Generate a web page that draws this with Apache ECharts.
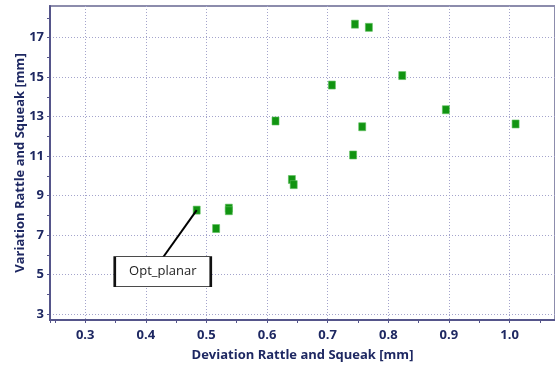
<!DOCTYPE html>
<html>
<head>
<meta charset="utf-8">
<script src="https://cdn.jsdelivr.net/npm/echarts@6/dist/echarts.min.js"></script>
<style>
html,body{margin:0;padding:0;background:#fff;}
#chart{width:555px;height:367px;}
</style>
</head>
<body>
<div id="chart"></div>
<script>
// Data
var deviation = [0.745, 0.768, 0.823, 0.707, 0.895, 0.614, 0.757, 1.010, 0.742, 0.641, 0.644, 0.484, 0.516, 0.537, 0.537];
var variation = [17.68, 17.52, 15.08, 14.60, 13.35, 12.78, 12.49, 12.63, 11.06, 9.82, 9.56, 8.27, 7.34, 8.37, 8.24];
var xAxisTitle = 'Deviation Rattle and Squeak [mm]';
var yAxisTitle = 'Variation Rattle and Squeak [mm]';
var xRange = [0.242, 1.075];
var yRange = [2.71, 18.6];
var xStep = 0.1;
var yMajorTicks = [3, 5, 7, 9, 11, 13, 15, 17];
var yMinorTicks = [4, 6, 8, 10, 12, 14, 16, 18];
// Callout (data coordinates)
var calloutText = 'Opt_planar';
var calloutPoint = [0.484, 8.27];
var calloutLineEnd = [0.428, 5.86];
var calloutBoxAt = [0.428, 5.16];

var points = deviation.map(function (d, i) { return [d, variation[i]]; });

var axisColor = '#55558a';
var labelColor = '#1e2862';
var gridColor = '#a4a4cc';
var fontFam = '"Open Sans", "DejaVu Sans", sans-serif';
var labelFont = {color: labelColor, fontFamily: fontFam, fontWeight: 'bold', fontSize: 13};

var chart = echarts.init(document.getElementById('chart'), null, {renderer: 'canvas'});
chart.setOption({
  animation: false,
  backgroundColor: '#ffffff',
  grid: {left: 50, top: 6, right: 0, bottom: 46, show: true, borderColor: '#8c8cac', borderWidth: 2, backgroundColor: 'transparent'},
  xAxis: {
    type: 'value', min: xRange[0], max: xRange[1], minInterval: xStep, maxInterval: xStep, splitNumber: 8,
    name: xAxisTitle, nameLocation: 'middle', nameGap: 29, nameMoveOverlap: false,
    nameTextStyle: labelFont,
    axisLine: {show: true, onZero: false, lineStyle: {color: axisColor, width: 2}},
    axisTick: {show: true, length: 3, lineStyle: {color: axisColor, width: 1}},
    minorTick: {show: true, splitNumber: 2, length: 3, lineStyle: {color: axisColor, width: 1}},
    axisLabel: Object.assign({margin: 9, showMinLabel: false, showMaxLabel: false,
      formatter: function (v) { return v.toFixed(1); }}, labelFont),
    splitLine: {show: true, lineStyle: {color: gridColor, type: [1, 2], width: 1}}
  },
  yAxis: [{
    type: 'value', min: yRange[0], max: yRange[1], minInterval: 1, maxInterval: 1,
    name: yAxisTitle, nameLocation: 'middle', nameGap: 23, nameMoveOverlap: false,
    nameTextStyle: labelFont,
    axisLine: {show: true, onZero: false, lineStyle: {color: axisColor, width: 2}},
    axisTick: {show: true, length: 3, customValues: yMajorTicks, lineStyle: {color: axisColor, width: 1}},
    minorTick: {show: false},
    axisLabel: Object.assign({margin: 6, customValues: yMajorTicks,
      formatter: function (v) { return String(Math.round(v)); }}, labelFont),
    splitLine: {show: true, lineStyle: {color: gridColor, type: [1, 2], width: 1}}
  }, {
    type: 'value', min: yRange[0], max: yRange[1], minInterval: 1, maxInterval: 1, position: 'left',
    axisLine: {show: false},
    axisTick: {show: true, length: 3, customValues: yMinorTicks, lineStyle: {color: axisColor, width: 1}},
    axisLabel: {show: false},
    splitLine: {show: false}
  }],
  series: [{
    type: 'scatter',
    yAxisIndex: 0,
    data: points,
    symbol: 'rect',
    symbolSize: [7, 8],
    itemStyle: {color: '#119411', borderColor: '#5cc05c', borderWidth: 0.6, opacity: 1},
    markLine: {
      silent: true, symbol: ['none', 'none'],
      lineStyle: {color: '#000000', width: 2, type: 'solid'},
      label: {show: false},
      data: [[{coord: calloutPoint}, {coord: calloutLineEnd}]]
    },
    markPoint: {
      silent: true,
      symbol: 'rect', symbolSize: [96, 30],
      itemStyle: {color: '#ffffff', borderColor: '#111111', borderWidth: 1.5},
      label: {show: true, position: 'inside', color: '#222222', fontFamily: fontFam, fontSize: 13, formatter: calloutText},
      data: [{coord: calloutBoxAt}]
    }
  }]
});
</script>
</body>
</html>
